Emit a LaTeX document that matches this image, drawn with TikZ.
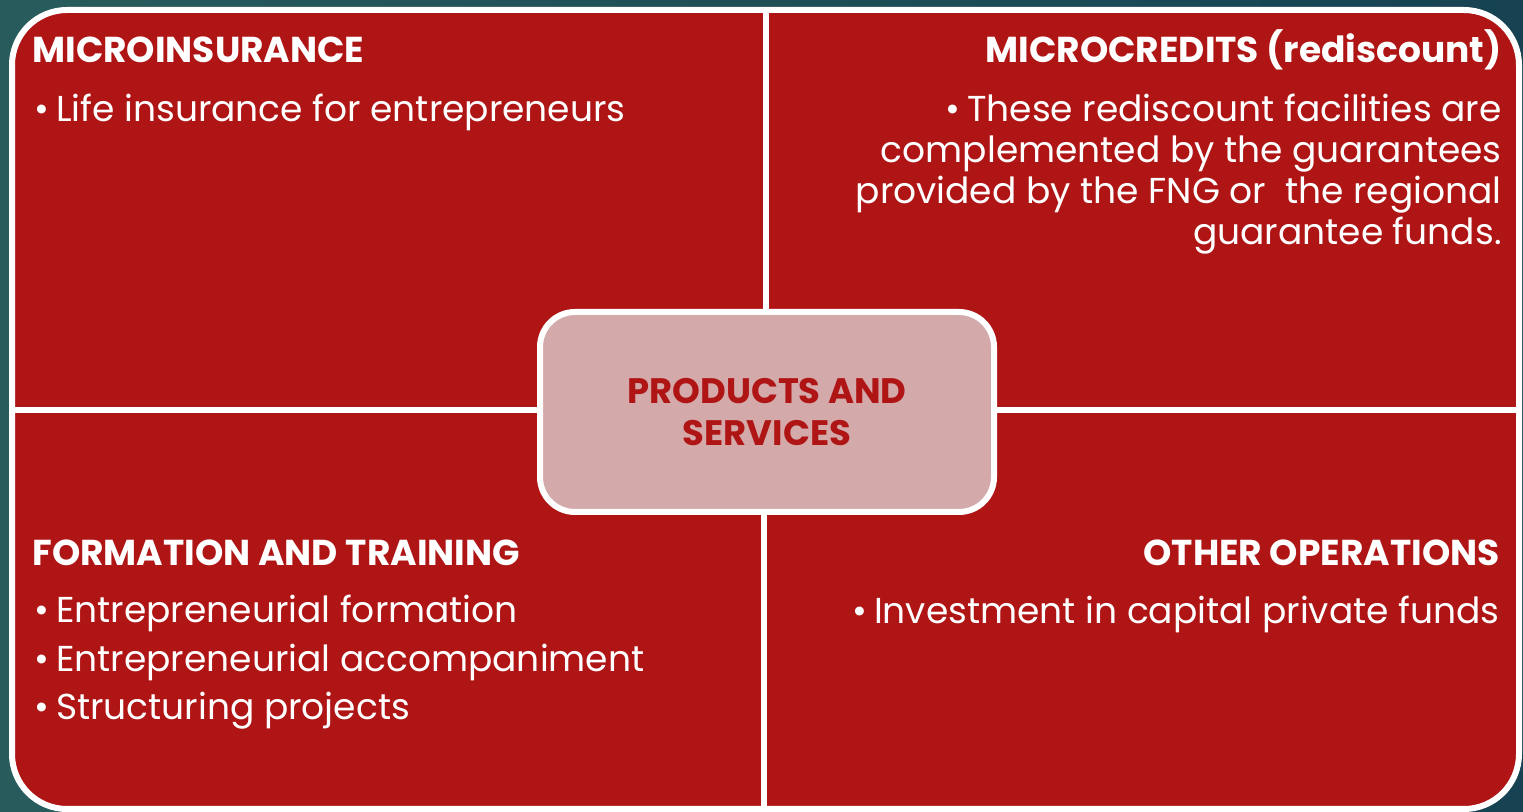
\documentclass[tikz,border=0pt]{standalone}
\usepackage{fontspec}
\setmainfont{Poppins}
\definecolor{cellred}{RGB}{176,21,21}
\definecolor{hubpink}{RGB}{212,169,170}
\definecolor{tealL}{RGB}{40,92,92}
\definecolor{tealM}{RGB}{58,112,104}
\definecolor{tealR}{RGB}{22,66,82}
\newcommand{\bul}{\textbullet\hspace{3.5pt}}
\tikzset{
  head/.style={inner sep=0pt, text=white, font=\fontsize{18}{21}\selectfont\bfseries},
  item/.style={inner sep=0pt, text=white, font=\fontsize{18}{20.5}\selectfont},
  divider/.style={white, line width=3pt},
}

\begin{document}
\begin{tikzpicture}[x=0.5pt,y=-0.5pt]
    \shade[left color=tealL, middle color=tealM, right color=tealR] (0,0) rectangle (1523,812);
    \useasboundingbox (0,0) rectangle (1523,812);

    % the four quarters
    \draw[divider, fill=cellred, rounded corners=27.5pt] (12,10) rectangle (1519,809);
    \draw[divider] (766,10) -- (766,410);
    \draw[divider] (764,410) -- (764,809);
    \draw[divider] (12,410) -- (1519,410);

    \node[shape=rectangle, draw=white, line width=3pt, fill=hubpink, rounded corners=17.5pt,
          minimum width=227pt, minimum height=100pt, align=center, text=cellred,
          font=\fontsize{17.7}{21}\selectfont\bfseries] (hub) at (767,412) {PRODUCTS AND\\SERVICES};

    \node[head, anchor=base west] (insT) at (32,63) {MICROINSURANCE};
    \node[item, anchor=base west] (insL) at (34,122) {\bul Life insurance for entrepreneurs};

    \node[head, anchor=base east] (credT) at (1502,63) {MICROCREDITS (rediscount)};
    \node[item, anchor=base east, align=right] (credL) at (1502,245)
        {\bul These rediscount facilities are\\complemented by the guarantees\\provided by the FNG or\ \ the regional\\guarantee funds.};

    \node[head, anchor=base west] (formT) at (32,566) {FORMATION AND TRAINING};
    \node[item, anchor=base west, align=left, font=\fontsize{18}{24.25}\selectfont] (formL) at (34,720)
        {\bul Entrepreneurial formation\\\bul Entrepreneurial accompaniment\\\bul Structuring projects};

    \node[head, anchor=base east] (opsT) at (1500,566) {OTHER OPERATIONS};
    \node[item, anchor=base east] (opsL) at (1500,624) {\bul Investment in capital private funds};
\end{tikzpicture}
\end{document}
